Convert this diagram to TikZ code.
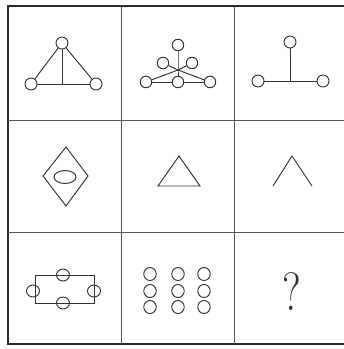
\documentclass[tikz,border=0pt]{standalone}
\usetikzlibrary{calc}
\definecolor{gridink}{HTML}{2B2B2B}
\definecolor{figink}{HTML}{333333}
\tikzset{
  frameline/.style={draw=gridink, line width=1.6pt},
  gridline/.style={draw=gridink!80, line width=.7pt},
  figline/.style={draw=figink, line width=.95pt},
  ring/.style={circle, draw=figink, line width=.95pt, minimum size=12pt,
    inner sep=0pt},
  smallring/.style={ring, minimum size=11.5pt},
  bead/.style={ellipse, draw=figink, line width=.95pt, minimum width=12.5pt,
    minimum height=13pt, inner sep=0pt}
}
\usetikzlibrary{shapes.geometric}

\begin{document}
\begin{tikzpicture}[x=1pt,y=-1pt]
  \useasboundingbox (0,0) rectangle (344,349);
  % the 3x3 frame (right edge runs off the picture)
  \draw[frameline] (8,6) rectangle (347,344);
  \foreach \x in {121,234} {
    \draw[gridline] (\x,6) -- (\x,344);
  }
  \foreach \y in {120,232} {
    \draw[gridline] (8,\y) -- (347,\y);
  }

  % row 1, cell 1: triangle of three rings
  \node[ring] (ta) at (62,43) {};
  \node[ring] (tb) at (31,84) {};
  \node[ring] (tc) at (96,84) {};
  \coordinate (tfoot) at (62,84);
  \draw[figline] (ta) -- (tb);
  \draw[figline] (ta) -- (tc);
  \draw[figline] (tb) -- (tc);
  \draw[figline] (ta) -- (tfoot);

  % row 1, cell 2: six rings round a hub
  \coordinate (hub) at (178,70);
  \node[smallring] (sa) at (178,45) {};
  \node[smallring] (sb) at (163,63) {};
  \node[smallring] (sc) at (192,63) {};
  \node[smallring] (sd) at (146,82) {};
  \node[smallring] (se) at (178,82) {};
  \node[smallring] (sf) at (210,82) {};
  \draw[figline] (sa) -- (hub) -- (se);
  \foreach \r in {sb,sc,sd,sf} {
    \draw[figline] (hub) -- (\r);
  }
  \draw[figline] (sd) -- (se) -- (sf);

  % row 1, cell 3: T of three rings
  \node[ring] (ua) at (290,42) {};
  \node[ring] (ub) at (258,81) {};
  \node[ring] (uc) at (323,81) {};
  \coordinate (ufoot) at (290,81);
  \draw[figline] (ua) -- (ufoot);
  \draw[figline] (ub) -- (uc);

  % row 2
  \draw[figline] (66,147) -- (88,176) -- (66,206) -- (43,176) -- cycle;
  \draw[figline] (65,177) ellipse [x radius=11, y radius=6.5];
  \draw[figline] (179,156) -- (200,186) -- (158,186) -- cycle;
  \draw[figline] (273,186) -- (292,156) -- (312,186);

  % row 3, cell 1: box with four rings on its sides
  \draw[figline] (35,275) rectangle (94,303);
  \node[bead, minimum width=13pt, minimum height=12pt] (ba) at (63,275) {};
  \node[bead, minimum width=13pt, minimum height=12pt] (bb) at (63,303) {};
  \node[bead, minimum width=13pt, minimum height=12pt] (bc) at (33,291) {};
  \node[bead, minimum width=13pt, minimum height=12pt] (bd) at (94,291) {};

  % row 3, cell 2: nine rings
  \foreach \x [count=\i] in {150,178,204} {
    \foreach \y [count=\j] in {274,291,307} {
      \node[bead] (g\i\j) at (\x,\y) {};
    }
  }

  % row 3, cell 3
  \node[text=figink, inner sep=0pt] (ask) at (292,292)
    {\scalebox{.8}[1]{\fontsize{54}{54}\selectfont ?}};
\end{tikzpicture}
\end{document}
